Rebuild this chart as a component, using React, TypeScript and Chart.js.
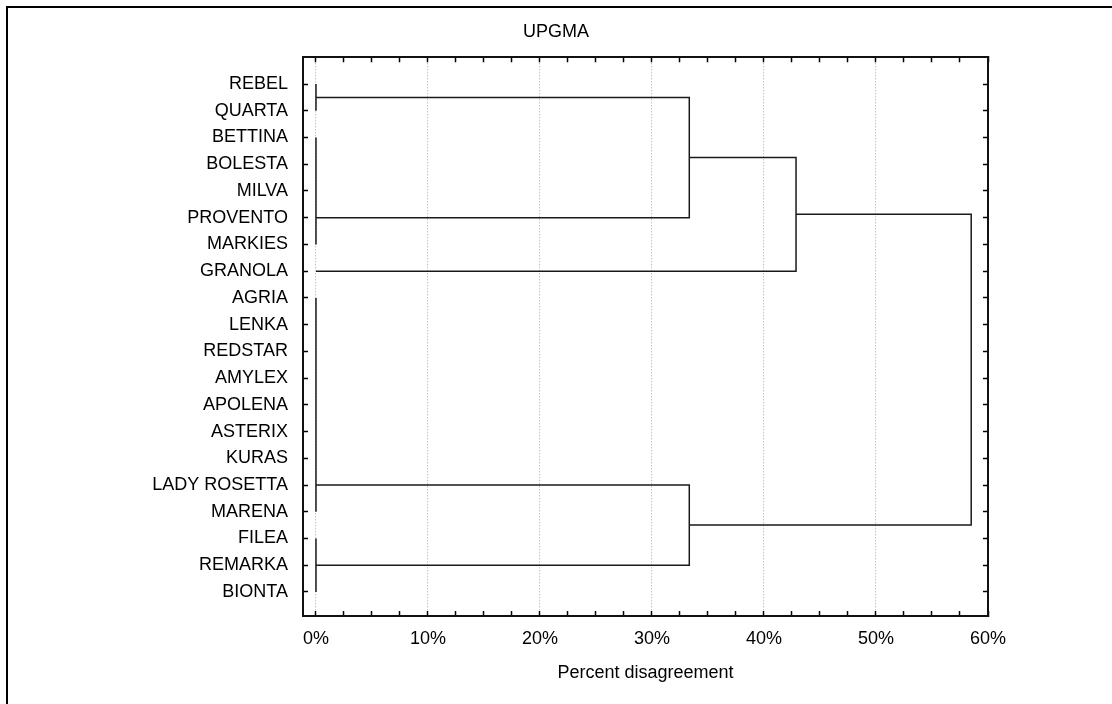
import React, { useEffect, useRef } from 'react';
import { Chart, registerables } from 'chart.js';

Chart.register(...registerables);

// Leaf labels, top to bottom (positions 1..20 on the y scale)
const leaves = [
  'REBEL', 'QUARTA', 'BETTINA', 'BOLESTA', 'MILVA', 'PROVENTO', 'MARKIES', 'GRANOLA',
  'AGRIA', 'LENKA', 'REDSTAR', 'AMYLEX', 'APOLENA', 'ASTERIX', 'KURAS', 'LADY ROSETTA',
  'MARENA', 'FILEA', 'REMARKA', 'BIONTA',
];

// Clusters joined at 0% disagreement: first and last leaf position
const zeroClusterStart = [1, 3, 9, 18];
const zeroClusterEnd = [2, 7, 17, 20];

// Links: child A (y, height), child B (y, height), join height (% disagreement)
const linkAY = [1.5, 3.75, 16, 5.875];
const linkAX = [0, 33.33, 0, 42.86];
const linkBY = [6, 8, 19, 17.5];
const linkBX = [0, 0, 0, 33.33];
const linkHeight = [33.33, 42.86, 33.33, 58.5];

// Axis ticks
const xTicks = [
  0, 2.5, 5, 7.5, 10, 12.5, 15, 17.5, 20, 22.5, 25, 27.5, 30, 32.5, 35, 37.5,
  40, 42.5, 45, 47.5, 50, 52.5, 55, 57.5, 60,
];
const xMajorTicks = [0, 10, 20, 30, 40, 50, 60];
const yTicks = [1, 2, 3, 4, 5, 6, 7, 8, 9, 10, 11, 12, 13, 14, 15, 16, 17, 18, 19, 20];

const X_MIN = -1.16;
const X_MAX = 60;
const Y_MIN = 0;
const Y_MAX = 20.9;

const FONT = { family: "'Liberation Sans', Arial, sans-serif", size: 18, weight: 'normal' as const };
const LINE = '#1a1a1a';

export default function App() {
  const canvasRef = useRef<HTMLCanvasElement | null>(null);

  useEffect(() => {
    const canvas = canvasRef.current;
    if (!canvas) return;

    const datasets: any[] = [];
    for (let i = 0; i < zeroClusterStart.length; i++) {
      datasets.push({
        data: [
          { x: 0, y: zeroClusterStart[i] },
          { x: 0, y: zeroClusterEnd[i] },
        ],
      });
    }
    for (let i = 0; i < linkHeight.length; i++) {
      datasets.push({
        data: [
          { x: linkAX[i], y: linkAY[i] },
          { x: linkHeight[i], y: linkAY[i] },
          { x: linkHeight[i], y: linkBY[i] },
          { x: linkBX[i], y: linkBY[i] },
        ],
      });
    }
    datasets.forEach((d) => {
      d.showLine = true;
      d.pointRadius = 0;
      d.pointHoverRadius = 0;
      d.borderColor = LINE;
      d.backgroundColor = LINE;
      d.borderWidth = 1.5;
      d.tension = 0;
      d.xAxisID = 'x';
      d.yAxisID = 'y';
    });

    const isMajor = (v: number) => xMajorTicks.some((m) => Math.abs(m - v) < 1e-6);

    const chart = new Chart(canvas, {
      type: 'scatter',
      data: { datasets },
      options: {
        responsive: false,
        animation: false,
        events: [],
        layout: { padding: { left: 0, right: 0, top: 0, bottom: 0 } },
        plugins: {
          legend: { display: false },
          tooltip: { enabled: false },
          title: {
            display: true,
            text: 'UPGMA',
            color: '#000',
            font: FONT,
            padding: { top: 21.7, bottom: 14 },
          },
        },
        scales: {
          x: {
            type: 'linear',
            position: 'bottom',
            min: X_MIN,
            max: X_MAX,
            afterBuildTicks: (s: any) => {
              s.ticks = xTicks.map((v) => ({ value: v }));
            },
            afterFit: (s: any) => {
              s.height = 88;
            },
            ticks: {
              autoSkip: false,
              maxRotation: 0,
              color: '#000',
              font: FONT,
              padding: 17,
              callback: (v: any) => (isMajor(Number(v)) ? `${v}%` : ''),
            },
            grid: {
              drawOnChartArea: true,
              color: (ctx: any) =>
                ctx.tick && isMajor(ctx.tick.value) && ctx.tick.value < 60 ? '#a8a8a8' : 'rgba(0,0,0,0)',
              lineWidth: 1,
              tickColor: '#000',
              tickLength: -5,
              tickWidth: 1.5,
            },
            border: { display: true, color: '#111', width: 2, dash: [1, 2] },
            title: {
              display: true,
              text: 'Percent disagreement',
              color: '#000',
              font: FONT,
              padding: { top: 0, bottom: 20 },
            },
          },
          x2: {
            type: 'linear',
            position: 'top',
            min: X_MIN,
            max: X_MAX,
            afterBuildTicks: (s: any) => {
              s.ticks = xTicks.map((v) => ({ value: v }));
            },
            afterFit: (s: any) => {
              s.height = 0;
            },
            ticks: { display: false },
            grid: {
              drawOnChartArea: false,
              tickColor: '#000',
              tickLength: -5,
              tickWidth: 1.5,
            },
            border: { display: true, color: '#111', width: 2 },
          },
          y: {
            type: 'linear',
            position: 'left',
            reverse: true,
            min: Y_MIN,
            max: Y_MAX,
            afterBuildTicks: (s: any) => {
              s.ticks = yTicks.map((v) => ({ value: v }));
            },
            afterFit: (s: any) => {
              s.width = 303;
            },
            ticks: {
              autoSkip: false,
              color: '#000',
              font: FONT,
              padding: 20,
              callback: (v: any) => leaves[Math.round(Number(v)) - 1] ?? '',
            },
            grid: {
              drawOnChartArea: false,
              tickColor: '#000',
              tickLength: -5,
              tickWidth: 1.5,
            },
            border: { display: true, color: '#111', width: 2 },
          },
          y2: {
            type: 'linear',
            position: 'right',
            reverse: true,
            min: Y_MIN,
            max: Y_MAX,
            afterBuildTicks: (s: any) => {
              s.ticks = yTicks.map((v) => ({ value: v }));
            },
            afterFit: (s: any) => {
              s.width = 124;
            },
            ticks: { display: false },
            grid: {
              drawOnChartArea: false,
              tickColor: '#000',
              tickLength: -5,
              tickWidth: 1.5,
            },
            border: { display: true, color: '#111', width: 2 },
          },
        },
      } as any,
    });

    return () => {
      chart.destroy();
    };
  }, []);

  return (
    <div style={{ position: 'absolute', left: 0, top: 0, width: 1112, height: 704, background: '#fff' }}>
      <div
        style={{
          position: 'absolute',
          left: 6,
          top: 6,
          width: 1104,
          height: 696,
          borderLeft: '2px solid #000',
          borderTop: '2px solid #000',
        }}
      />
      <canvas
        ref={canvasRef}
        width={1112}
        height={704}
        style={{ position: 'absolute', left: 0, top: 0, width: 1112, height: 704 }}
      />
    </div>
  );
}
